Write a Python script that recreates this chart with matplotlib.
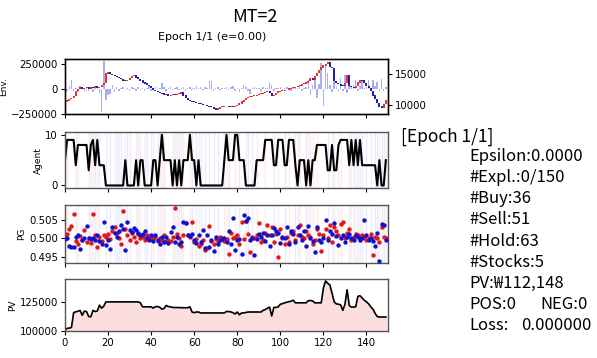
import matplotlib
matplotlib.use("Agg")
import matplotlib.pyplot as plt

# ---- dados ----
passos = list(range(150))

# preço de fechamento (eixo direito do painel Env.)
fechamento = [
    10600, 10800, 11000, 11200, 11500, 12300, 12600, 12900, 12700, 12800,
    13000, 12700, 12900, 12800, 13100, 12900, 13000, 13300, 13600, 15100,
    15300, 15000, 14900, 14700, 14600, 14400, 14200, 14000, 13900, 14100,
    14400, 14700, 14800, 14500, 14200, 14000, 13700, 13500, 13300, 13100,
    12800, 12500, 12300, 12100, 12000, 11900, 11700, 11800, 11600, 11700,
    11800, 11700, 11800, 11900, 12100, 11600, 11200, 10900, 10700, 10600,
    10500, 10400, 10300, 10200, 10100, 10000, 9900, 9800, 9700, 9500,
    9300, 9500, 9700, 9800, 9900, 9900, 9800, 9900, 9800, 9900,
    10000, 10300, 10600, 10900, 11200, 11300, 11400, 11500, 11600, 11700,
    11800, 11900, 12000, 12100, 12200, 12000, 11500, 11700, 12000, 12200,
    12300, 12400, 12500, 12500, 12700, 12800, 12900, 13000, 13100, 13200,
    13400, 13500, 13700, 13900, 14300, 14100, 14700, 15200, 15700, 16100,
    16400, 16700, 16900, 16200, 16000, 13900, 13600, 13400, 13200, 13100,
    13600, 14900, 13100, 13000, 12900, 13100, 13700, 14100, 14000, 13600,
    13100, 12800, 12300, 11600, 11000, 10400, 9800, 9600, 10200, 10800,
]
abertura_inicial = 10400

# volume (eixo esquerdo do painel Env.)
volume = [
    20000, -15000, 30000, 90000, -20000, 15000, -25000, 30000, 10000, -20000,
    25000, -15000, 20000, -30000, 15000, 30000, -40000, -225000, 280000, -105000,
    -60000, -50000, 40000, -30000, 25000, -15000, 10000, 20000, -10000, 15000,
    -20000, 25000, 10000, -15000, 20000, -10000, 15000, -20000, 10000, 30000,
    -15000, 10000, 20000, -10000, 15000, 60000, 20000, -15000, 10000, 25000,
    -10000, 15000, 20000, -10000, 10000, 25000, -15000, 10000, 20000, -10000,
    15000, 30000, 10000, 25000, -10000, 20000, 15000, 85000, 80000, -15000,
    10000, 20000, -10000, 15000, 10000, 25000, -10000, 20000, 35000, -15000,
    10000, -25000, 15000, 40000, 20000, -15000, -50000, 10000, 25000, 15000,
    10000, -15000, 20000, 15000, 10000, 70000, 40000, -20000, 15000, 10000,
    20000, -10000, 15000, 25000, 10000, -15000, 20000, 10000, 15000, 35000,
    -20000, 15000, 25000, 90000, -60000, 40000, 100000, -90000, 50000, 260000,
    -170000, 240000, 160000, 40000, -30000, 145000, 20000, -15000, 110000, -20000,
    140000, -40000, 30000, 25000, 45000, 90000, -20000, 30000, 80000, 15000,
    20000, 95000, -10000, 90000, 30000, 75000, -20000, 100000, -15000, 20000,
]

# número de ações do agente
agente = [
    5, 9, 9, 9, 9, 4, 8, 8, 8, 8,
    8, 3, 8, 9, 4, 9, 4, 4, 4, 0,
    0, 0, 0, 0, 0, 0, 0, 0, 5, 0,
    0, 0, 0, 5, 0, 5, 5, 0, 0, 0,
    0, 5, 5, 0, 5, 10, 5, 5, 5, 5,
    0, 5, 0, 5, 0, 5, 5, 5, 10, 5,
    5, 0, 5, 0, 0, 0, 0, 0, 0, 0,
    0, 0, 0, 0, 5, 10, 5, 5, 5, 10,
    10, 5, 5, 5, 0, 0, 0, 0, 0, 5,
    5, 5, 5, 9, 9, 9, 9, 4, 4, 9,
    9, 9, 4, 4, 9, 9, 9, 4, 0, 5,
    5, 5, 0, 5, 0, 5, 5, 8, 8, 8,
    8, 8, 3, 3, 8, 3, 3, 8, 9, 9,
    9, 9, 4, 9, 4, 9, 4, 9, 4, 4,
    4, 4, 4, 4, 4, 0, 5, 0, 0, 5,
]

passos_compra = [0, 1, 6, 12, 13, 15, 28, 33, 35, 41, 44, 45, 51, 53, 55, 58, 62, 74,
                 75, 79, 89, 93, 99, 104, 109, 113, 115, 117, 124, 127, 128, 133,
                 135, 137, 146, 149]
passos_venda = [5, 11, 14, 16, 19, 21, 23, 24, 25, 26, 29, 30, 34, 37, 38, 40, 43, 46,
                50, 52, 54, 59, 61, 63, 65, 67, 69, 71, 76, 81, 84, 85, 87, 97, 102,
                107, 108, 112, 114, 122, 125, 132, 134, 136, 138, 140, 142, 144, 145,
                147, 148]

# probabilidades (PG)
pg_compra = [
    .5005, .5012, .5025, .5033, .5064, .4992, .4985, .5006, .4995, .5022,
    .4990, .5000, .4988, .5064, .5010, .4978, .5004, .4992, .5010, .5003,
    .5012, .4998, .5020, .5030, .5015, .5002, .4985, .5073, .5024, .5010,
    .4995, .5015, .5005, .4990, .5012, .5000, .5003, .4995, .5008, .5002,
    .4998, .5000, .5005, .4994, .5002, .4997, .5010, .4993, .4995, .4992,
    .5004, .5082, .5012, .5000, .4980, .5010, .5042, .5008, .5005, .5043,
    .4990, .4998, .4980, .4985, .4995, .4970, .4975, .5033, .4992, .4985,
    .4998, .4990, .5005, .5000, .4993, .4998, .4960, .5015, .5000, .5005,
    .5008, .4985, .5043, .4998, .5047, .5012, .4965, .5003, .5000, .5010,
    .5040, .4990, .4995, .5015, .5035, .5010, .5030, .4990, .5012, .4952,
    .5025, .5000, .4985, .5005, .4990, .5015, .5020, .4995, .5010, .5035,
    .5005, .5000, .5020, .5010, .5005, .4985, .4995, .5025, .5012, .4966,
    .5008, .5025, .5002, .5035, .4990, .5030, .5020, .5008, .5038, .5044,
    .5000, .5015, .5025, .4995, .5005, .5012, .5008, .5000, .5010, .5005,
    .4995, .5000, .5012, .4955, .5003, .5000, .4990, .5030, .5005, .5002,
]
pg_venda = [
    .4998, .5000, .4980, .4978, .4976, .5005, .5008, .4973, .4995, .5002,
    .5033, .5000, .4998, .5002, .4995, .5010, .4993, .4985, .5045, .4982,
    .4997, .4971, .5030, .5015, .5003, .5020, .5035, .5025, .4970, .5045,
    .5022, .5018, .5027, .5022, .5015, .5008, .5012, .5020, .5000, .4995,
    .5010, .4992, .5008, .4997, .4985, .5003, .4990, .5003, .4988, .5018,
    .5030, .4990, .5005, .4985, .4990, .5044, .5040, .5010, .5006, .5012,
    .4995, .4988, .5008, .4990, .5022, .4975, .5010, .4978, .4997, .4968,
    .5005, .4985, .4995, .4998, .5000, .4990, .5020, .4985, .5054, .4970,
    .4995, .4998, .4959, .5063, .5047, .5055, .4995, .5000, .4955, .4998,
    .5012, .5005, .5015, .4992, .5010, .4980, .5008, .5027, .5020, .5015,
    .4988, .5005, .5000, .5030, .4985, .5020, .5012, .4990, .5030, .5010,
    .4995, .5020, .4980, .5033, .5000, .4993, .4964, .5030, .4997, .4990,
    .5000, .5050, .4995, .5020, .5012, .5040, .5007, .4982, .5002, .5010,
    .4990, .5005, .5012, .5000, .4995, .5008, .5004, .4996, .5002, .5049,
    .5010, .4995, .5000, .4993, .4980, .5015, .4941, .5038, .5036, .4995,
]

# valor do portfólio
pv = [
    101100, 102500, 102700, 103300, 115800, 116600, 117000, 117800, 113600, 117200,
    116800, 112500, 112400, 117800, 116800, 117200, 122200, 119700, 121300, 125000,
    125000, 125000, 125000, 125000, 125000, 125000, 125000, 125000, 125000, 125000,
    125000, 125000, 125000, 125000, 125000, 124200, 120800, 120800, 120800, 120800,
    120800, 119700, 121000, 121000, 120500, 118800, 119500, 122000, 121000, 120800,
    120300, 120200, 120200, 120100, 120100, 120000, 120000, 120000, 120800, 116400,
    115800, 116400, 116400, 115600, 115600, 115600, 115600, 115600, 115600, 115600,
    115600, 115600, 115600, 115600, 115600, 116900, 116700, 116500, 115800, 114700,
    116400, 114000, 115600, 115600, 116000, 116400, 116400, 116400, 116400, 116400,
    116400, 116400, 117800, 118500, 119500, 120600, 113000, 120300, 120300, 120800,
    123000, 123500, 124200, 124700, 125200, 125600, 126400, 124200, 124200, 124200,
    124200, 124200, 124200, 126100, 126100, 125800, 124200, 124200, 124200, 124200,
    136700, 142800, 140800, 139400, 132500, 125000, 123300, 123000, 122500, 117800,
    122800, 135300, 121900, 120600, 120600, 120800, 129700, 130200, 128300, 126400,
    125000, 123300, 120800, 118900, 115300, 112500, 112148, 112148, 112148, 112148,
]

info_linhas = ["Epsilon:0.0000", "#Expl.:0/150", "#Buy:36", "#Sell:51",
               "#Hold:63", "#Stocks:5", "PV:\u20a9112,148"]

plt.rcParams['font.size'] = 7.3
plt.rcParams['axes.linewidth'] = 1.0

fig = plt.figure(figsize=(5.97, 3.58), dpi=100)

def nova_ax(topo, base):
    return fig.add_axes([65 / 597, 1 - base / 358, 323 / 597, (base - topo) / 358])

ax1 = nova_ax(59.3, 114.3)
ax2 = nova_ax(132.3, 188)
ax3 = nova_ax(205, 263.3)
ax4 = nova_ax(279.3, 331.3)

# Env.: volume + candles
ax1.bar(passos, volume, width=0.7, color='#4848e8', alpha=0.45, linewidth=0)
ax1.set_ylim(-250000, 300000)
ax1.set_yticks([-250000, 0, 250000])
ax1b = ax1.twinx()
abertura = [abertura_inicial] + fechamento[:-1]
for t, a, f in zip(passos, abertura, fechamento):
    cor = '#e02020' if f >= a else '#0a0aa8'
    ax1b.vlines(t, min(a, f), max(a, f) + 60, color=cor, linewidth=1.3)
ax1b.set_ylim(8580, 17450)
ax1b.set_yticks([10000, 15000])

# Agent
for t in passos_compra:
    ax2.axvline(t, color='red', alpha=0.08, linewidth=1)
    ax3.axvline(t, color='red', alpha=0.08, linewidth=1)
for t in passos_venda:
    ax2.axvline(t, color='blue', alpha=0.08, linewidth=1)
    ax3.axvline(t, color='blue', alpha=0.08, linewidth=1)
ax2.plot(passos, agente, color='black', linewidth=1.5)
ax2.set_yticks([0, 10])

# PG
ax3.scatter(passos, pg_compra, s=10, color='#e01818', zorder=3, linewidths=0)
ax3.scatter(passos, pg_venda, s=10, color='#1010d0', zorder=3, linewidths=0)
ax3.set_yticks([0.495, 0.500, 0.505])

# PV
ax4.fill_between(passos, pv, 100000, color='#fcdede')
ax4.plot(passos, pv, color='black', linewidth=1.2)
ax4.set_ylim(100800, 144200)
ax4.set_yticks([100000, 125000])

for ax, rotulo in zip((ax1, ax2, ax3, ax4), ("Env.", "Agent", "PG", "PV")):
    ax.set_xlim(0, 150)
    ax.set_xticks(range(0, 150, 20))
    ax.tick_params(labelsize=7.3, length=3, pad=2)
    ax.set_ylabel(rotulo, fontsize=6.5, labelpad=2)
    for s in ax.spines.values():
        s.set_color('#555555')
for ax in (ax1, ax2, ax3):
    ax.set_xticklabels([])
ax1b.tick_params(labelsize=7.3, length=3, pad=2)

fig.text(212 / 597, 1 - 37 / 358, "Epoch 1/1 (e=0.00)", ha='center', va='center', fontsize=8)
fig.text(255 / 597, 1 - 17 / 358, "MT=2", ha='center', va='center', fontsize=13,
         family=['Noto Sans CJK KR', 'DejaVu Sans'])

fonte_info = ['Noto Sans CJK KR', 'DejaVu Sans']
fig.text(401 / 597, 1 - 136.7 / 358, "[Epoch 1/1]", va='center', fontsize=12.5, family=fonte_info)
for i, linha in enumerate(info_linhas):
    fig.text(469 / 597, 1 - (156.7 + 21.1 * i) / 358, linha, va='center', fontsize=12,
             family=fonte_info)
y_pos = 156.7 + 21.1 * 7
fig.text(469 / 597, 1 - y_pos / 358, "POS:0", va='center', fontsize=12, family=fonte_info)
fig.text(540 / 597, 1 - y_pos / 358, "NEG:0", va='center', fontsize=12, family=fonte_info)
y_loss = y_pos + 21.1
fig.text(469 / 597, 1 - y_loss / 358, "Loss:", va='center', fontsize=12, family=fonte_info)
fig.text(521 / 597, 1 - y_loss / 358, "0.000000", va='center', fontsize=12, family=fonte_info)

fig.savefig("out.png", dpi=100)
